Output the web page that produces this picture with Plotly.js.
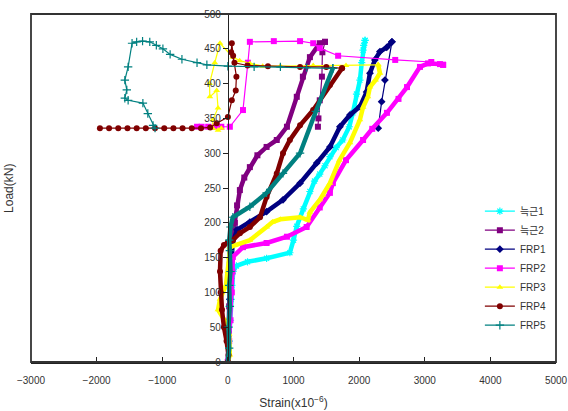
<!DOCTYPE html>
<html>
<head>
<meta charset="utf-8">
<script src="https://cdn.plot.ly/plotly-3.0.1.min.js"></script>
<style>
  html, body { margin: 0; padding: 0; background: #fff; }
  #chart { width: 568px; height: 411px; }
</style>
</head>
<body>
<div id="chart"></div>
<script>
// Load-strain readings (strain in x10^-6, load in kN).
// Each gauge has a loading branch (dense, drawn thick) and a post-peak branch (drawn thin).

const seriesNames = ['늑근1', '늑근2', 'FRP1', 'FRP2', 'FRP3', 'FRP4', 'FRP5'];

// 늑근1
const s1Strain = [0, 20, 40, 50, 60, 80, 130, 300, 590, 945, 1000, 1050, 1150, 1250, 1320, 1400, 1480, 1555, 1650, 1750, 1850, 1905, 1960, 2012, 2040, 2060, 2090];
const s1Load   = [0, 30, 60, 90, 110, 130, 138, 144, 149, 157, 175, 195, 220, 245, 260, 270, 282, 295, 308, 319, 338, 358, 385, 405, 430, 448, 462];
const s1PostStrain = [2090, 2070];
const s1PostLoad   = [462, 455];

// 늑근2
const s2Strain = [0, 10, 20, 25, 30, 40, 60, 107, 140, 183, 250, 335, 450, 590, 745, 900, 1050, 1143, 1250, 1400, 1480];
const s2Load   = [0, 40, 80, 110, 140, 160, 175, 200, 225, 247, 265, 280, 297, 309, 319, 338, 381, 410, 438, 458, 460];
const s2PostStrain = [1480, 1440, 1433, 1400, 1380, 1372];
const s2PostLoad   = [460, 445, 410, 376, 350, 338];

// FRP1
const f1Strain = [0, 10, 20, 30, 40, 50, 70, 140, 335, 590, 840, 1100, 1355, 1555, 1707, 1860, 2012, 2114, 2165, 2240, 2317, 2420, 2500];
const f1Load   = [0, 30, 60, 90, 120, 150, 170, 190, 201, 216, 233, 257, 286, 309, 338, 355, 367, 388, 415, 434, 446, 452, 460];
const f1PostStrain = [2500, 2393, 2343, 2291];
const f1PostLoad   = [460, 405, 374, 336];

// FRP2
const f2Strain = [0, 20, 40, 60, 70, 76, 230, 590, 900, 1200, 1400, 1555, 1600, 1800, 2060, 2200, 2424, 2600, 2730, 2927, 3050, 3232, 3280];
const f2Load   = [0, 30, 60, 100, 130, 151, 165, 171, 180, 194, 222, 243, 257, 290, 319, 335, 358, 378, 395, 424, 429, 428, 427];
const f2PostStrain = [3280, 3100, 2550, 1680, 1400, 1300, 1100, 700, 335, 305, 230, 30, -100, -200, -300, -400, -470];
const f2PostLoad   = [427, 431, 434, 440, 451, 458, 461, 461, 460, 430, 362, 338, 338, 338, 338, 338, 338];

// FRP3
const f3Strain = [0, 30, 20, -50, -150, -120, -30, 0, 20, 30, 335, 590, 680, 800, 1100, 1220, 1250, 1400, 1450, 1555, 1700, 1860, 2012, 2060, 2134, 2165, 2250, 2317, 2290];
const f3Load   = [0, 10, 40, 60, 75, 90, 110, 130, 150, 165, 175, 194, 201, 205, 208, 204, 215, 233, 240, 257, 290, 315, 348, 366, 381, 395, 405, 415, 427];
const f3PostStrain = [2290, 1800, 1300, 800, 530, 335, 180, 76, -120, -200, -280, -275, -170, -150, -230, -230, -150, -100];
const f3PostLoad   = [427, 426, 426, 425, 425, 429, 433, 438, 458, 430, 400, 381, 390, 365, 348, 336, 333, 336];

// FRP4
const f4Strain = [0, 10, -20, -60, -90, -110, -120, -110, -60, 0, 76, 183, 335, 490, 590, 745, 840, 945, 1100, 1300, 1555, 1740];
const f4Load   = [0, 10, 30, 50, 75, 100, 130, 160, 168, 172, 175, 185, 194, 208, 237, 271, 300, 319, 340, 362, 398, 422];
const f4PostStrain = [1740, 1500, 1100, 610, 300, 100, 50, 60, 80, 130, 120, 60, 0, -170, -270, -410, -550, -690, -830, -970, -1110, -1250, -1390, -1530, -1670, -1810, -1950];
const f4PostLoad   = [422, 424, 424, 425, 426, 430, 445, 458, 440, 410, 390, 376, 352, 343, 337, 336, 336, 336, 336, 336, 336, 336, 336, 336, 336, 336, 336];

// FRP5
const f5Strain = [0, 20, 10, 30, 20, 40, 30, 20, 40, 76, 335, 590, 840, 1100, 1340, 1600];
const f5Load   = [0, 20, 50, 80, 110, 130, 160, 175, 194, 208, 223, 243, 271, 300, 360, 422];
const f5PostStrain = [1600, 1200, 800, 400, 0, -320, -470, -700, -880, -990, -1090, -1190, -1300, -1390, -1460, -1520, -1570, -1540, -1570, -1520, -1295, -1220, -1140, -1110];
const f5PostLoad   = [422, 423, 424, 424, 425, 427, 430, 435, 442, 450, 455, 460, 461, 460, 458, 424, 405, 391, 379, 376, 372, 357, 340, 336];

const xTicks = [-3000, -2000, -1000, 0, 1000, 2000, 3000, 4000, 5000];
const yTicks = [0, 50, 100, 150, 200, 250, 300, 350, 400, 450, 500];

const styles = [
  { color: '#00FFFF', symbol: 'asterisk-open' },
  { color: '#800080', symbol: 'square' },
  { color: '#000080', symbol: 'diamond' },
  { color: '#FF00FF', symbol: 'square' },
  { color: '#FFFF00', symbol: 'triangle-up' },
  { color: '#800000', symbol: 'circle' },
  { color: '#008080', symbol: 'cross-thin-open' }
];

const loading = [
  [s1Strain, s1Load], [s2Strain, s2Load], [f1Strain, f1Load], [f2Strain, f2Load],
  [f3Strain, f3Load], [f4Strain, f4Load], [f5Strain, f5Load]
];
const postPeak = [
  [s1PostStrain, s1PostLoad], [s2PostStrain, s2PostLoad], [f1PostStrain, f1PostLoad], [f2PostStrain, f2PostLoad],
  [f3PostStrain, f3PostLoad], [f4PostStrain, f4PostLoad], [f5PostStrain, f5PostLoad]
];

function markerFor(st, size) {
  const open = st.symbol.endsWith('-open');
  return {
    symbol: st.symbol,
    size: size,
    color: st.color,
    line: { color: st.color, width: open ? 1.2 : 0 }
  };
}

const traces = [];
seriesNames.forEach((name, i) => {
  const st = styles[i];
  traces.push({
    type: 'scatter', mode: 'lines+markers', name: name, legendgroup: name,
    x: postPeak[i][0], y: postPeak[i][1],
    line: { color: st.color, width: 1.2 },
    marker: markerFor(st, 6),
    showlegend: true
  });
  traces.push({
    type: 'scatter', mode: 'lines+markers', name: name, legendgroup: name,
    x: loading[i][0], y: loading[i][1],
    line: { color: st.color, width: 4.5 },
    marker: markerFor(st, 6),
    showlegend: false
  });
});

const tickFont = { family: 'Liberation Sans, Noto Sans CJK KR, sans-serif', size: 10, color: '#333' };

const layout = {
  width: 568, height: 411,
  margin: { l: 31, r: 12, t: 14, b: 49 },
  paper_bgcolor: '#fff', plot_bgcolor: '#fff',
  showlegend: true,
  legend: {
    x: 0.855, y: 0.475, xanchor: 'left', yanchor: 'top',
    bgcolor: 'rgba(0,0,0,0)', borderwidth: 0,
    font: { family: 'Liberation Sans, Noto Sans CJK KR, sans-serif', size: 10, color: '#333' },
    tracegroupgap: 0
  },
  xaxis: {
    range: [-3000, 5000], tickvals: xTicks, ticks: 'inside', ticklen: 5,
    tickcolor: '#222', showline: true, linecolor: '#222', linewidth: 1.5,
    showgrid: false, zeroline: false, tickfont: tickFont, ticklabelstandoff: 8,
    title: { text: 'Strain(x10<sup>−6</sup>)', font: { family: 'Liberation Sans, sans-serif', size: 12, color: '#333' }, standoff: 14 }
  },
  yaxis: {
    range: [0, 500], tickvals: yTicks, ticks: 'outside', ticklen: 5,
    tickcolor: '#222', showline: true, linecolor: '#222', linewidth: 1.5,
    showgrid: false, zeroline: false, tickfont: tickFont,
    anchor: 'free', position: 0.375
  },
  shapes: [
    { type: 'rect', xref: 'paper', yref: 'paper', x0: 0, x1: 1, y0: 0, y1: 1,
      line: { color: '#333', width: 1.8 }, fillcolor: 'rgba(0,0,0,0)' }
  ],
  annotations: [
    { text: 'Load(kN)', xref: 'paper', yref: 'paper', x: -0.042, y: 0.5,
      showarrow: false, textangle: -90, xanchor: 'center', yanchor: 'middle',
      font: { family: 'Liberation Sans, sans-serif', size: 12, color: '#333' } }
  ]
};

Plotly.newPlot('chart', traces, layout, { displayModeBar: false, staticPlot: true });
</script>
</body>
</html>
